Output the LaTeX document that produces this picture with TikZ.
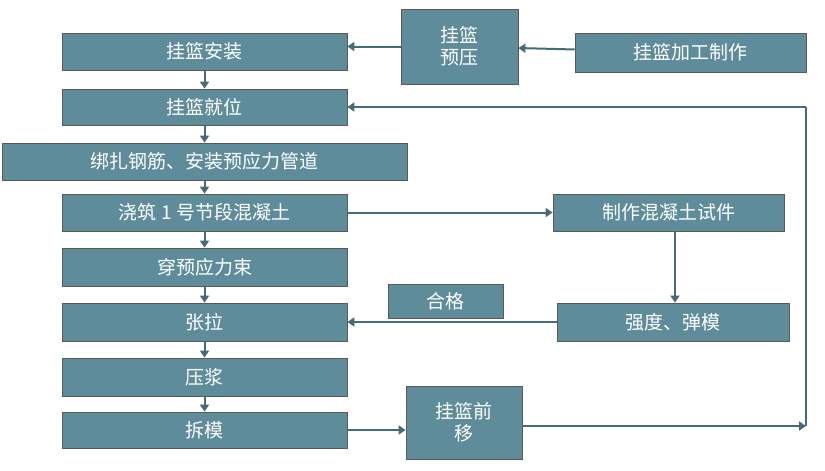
\documentclass[tikz,border=0pt]{standalone}
\usepackage{fontspec}
\setmainfont{Noto Sans CJK SC}
\usetikzlibrary{arrows.meta}
\definecolor{boxc}{HTML}{5F8C9B}
\definecolor{linec}{HTML}{466B78}
\begin{document}
\begin{tikzpicture}[x=1pt,y=-1pt,
 box/.style={draw=gray!70!black,line width=0.8pt,fill=boxc,text=white,font=\fontsize{19}{22}\selectfont,inner sep=0pt,align=center},
 arr/.style={draw=linec,line width=2pt,-{Triangle[length=7pt,width=9pt]}},
 ln/.style={draw=linec,line width=2pt}]
\useasboundingbox (0,0) rectangle (825,471);
\newcommand{\bx}[6]{\node[box,minimum width=#4-#2,minimum height=#5-#3] (#1) at ({(#2+#4)/2},{(#3+#5)/2}) {#6};}
\bx{az}{62}{33}{347}{70}{挂篮安装}
\bx{yy}{401}{9}{518}{84}{挂篮\\预压}
\bx{jg}{575}{33}{806}{72}{挂篮加工制作}
\bx{jw}{62}{89}{347}{125}{挂篮就位}
\bx{bz}{2}{143}{407}{180}{绑扎钢筋、安装预应力管道}
\bx{jz}{62}{194}{347}{231}{浇筑 1 号节段混凝土}
\bx{sj}{553}{194}{784}{231}{制作混凝土试件}
\bx{cy}{62}{248}{347}{286}{穿预应力束}
\bx{hg}{388}{284}{503}{318}{合格}
\bx{zl}{62}{303}{347}{341}{张拉}
\bx{qd}{557}{303}{789}{341}{强度、弹模}
\bx{yj}{62}{358}{347}{396}{压浆}
\bx{cm}{62}{412}{347}{448}{拆模}
\bx{qy}{406}{386}{522}{459}{挂篮前\\移}
\coordinate (c1) at (806,426);
\coordinate (c2) at (806,107);
\draw[arr] (jg) -- (yy);
\draw[arr] (yy.west) -- (az.east |- yy.west);
\draw[arr] (az) -- (jw);
\draw[arr] (jw) -- (jz.north |- bz.north);
\draw[arr] (bz) -- (jz);
\draw[arr] (jz) -- (cy);
\draw[arr] (cy) -- (zl);
\draw[arr] (zl) -- (yj);
\draw[arr] (yj) -- (cm);
\draw[arr] (jz) -- (sj);
\draw[arr] (sj.south -| 675,0) -- (qd.north -| 675,0);
\draw[arr] (qd) -- (zl);
\draw[arr] (cm.east) -- (qy.west |- cm.east);
\draw[arr] (qy.east |- c1) -- (c1);
\draw[ln] (c1) -- (c2);
\draw[arr] (c2) -- (jw.east |- c2);
\end{tikzpicture}
\end{document}
